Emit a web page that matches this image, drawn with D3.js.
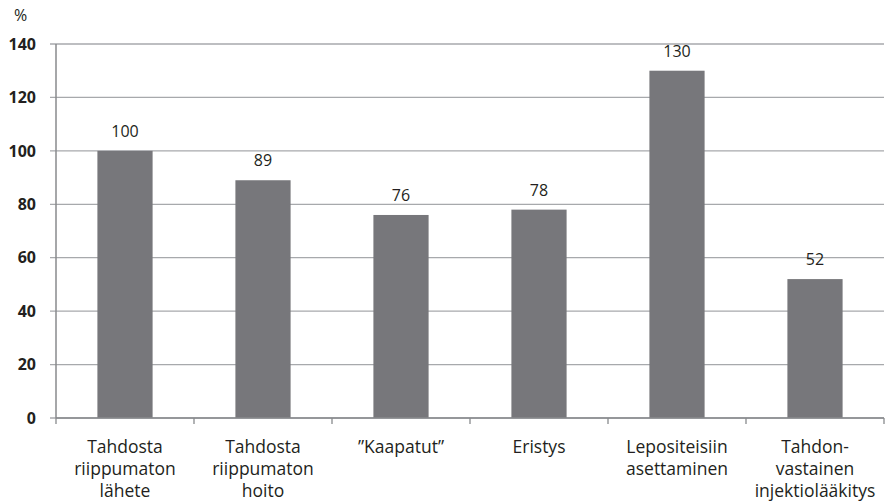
<!DOCTYPE html>
<html>
<head>
<meta charset="utf-8">
<script src="https://cdn.jsdelivr.net/npm/d3@7"></script>
<style>
  body { margin: 0; background: #fff; }
  text { font-family: "Open Sans", "Noto Sans", sans-serif; fill: #231f20; }
</style>
</head>
<body>
<script>
const w = 887;
const h = 503;

// data
const categories = [
  ['Tahdosta', 'riippumaton', 'lähete'],
  ['Tahdosta', 'riippumaton', 'hoito'],
  ['”Kaapatut”'],
  ['Eristys'],
  ['Lepositeisiin', 'asettaminen'],
  ['Tahdon-', 'vastainen', 'injektiolääkitys']
];
const values = [100, 89, 76, 78, 130, 52];
const yTicks = [0, 20, 40, 60, 80, 100, 120, 140];

const mLeft = 56, mRight = 884, mTop = 44, mBottom = 418;

let svg = d3.select('body').append('svg').attr('width', w).attr('height', h);

let x = d3.scaleBand().domain(d3.range(values.length)).range([mLeft, mRight]).padding(0);
let y = d3.scaleLinear().domain([0, 140]).range([mBottom, mTop]);
let barW = x.bandwidth() * 0.4;

// gridlines
svg.append('g')
  .selectAll('line')
  .data(yTicks)
  .enter()
  .append('line')
  .attr('x1', mLeft - 6)
  .attr('x2', mRight)
  .attr('y1', (d) => y(d))
  .attr('y2', (d) => y(d))
  .attr('stroke', '#a7a9ac')
  .attr('stroke-width', 1.3);

// y tick labels
svg.append('g')
  .selectAll('text')
  .data(yTicks)
  .enter()
  .append('text')
  .attr('x', 36)
  .attr('y', (d) => y(d))
  .attr('dy', '0.36em')
  .attr('text-anchor', 'end')
  .attr('font-size', 16)
  .attr('font-weight', 'bold')
  .text((d) => d);

svg.append('text')
  .attr('x', 14)
  .attr('y', 21)
  .attr('font-size', 16)
  .text('%');

// bars
svg.append('g')
  .selectAll('rect')
  .data(values)
  .enter()
  .append('rect')
  .attr('x', (d, i) => x(i) + (x.bandwidth() - barW) / 2)
  .attr('width', barW)
  .attr('y', (d) => y(d))
  .attr('height', (d) => mBottom - y(d))
  .attr('fill', '#77777b');

// value labels
svg.append('g')
  .selectAll('text')
  .data(values)
  .enter()
  .append('text')
  .attr('x', (d, i) => x(i) + x.bandwidth() / 2)
  .attr('y', (d) => y(d) - 14)
  .attr('text-anchor', 'middle')
  .attr('font-size', 16)
  .text((d) => d);

// axis lines
svg.append('line')
  .attr('x1', mLeft).attr('x2', mLeft)
  .attr('y1', mTop).attr('y2', mBottom)
  .attr('stroke', '#888a8d').attr('stroke-width', 1.5);

svg.append('line')
  .attr('x1', mLeft).attr('x2', mRight)
  .attr('y1', mBottom).attr('y2', mBottom)
  .attr('stroke', '#888a8d').attr('stroke-width', 1.5);

// x ticks at band boundaries
svg.append('g')
  .selectAll('line')
  .data(d3.range(values.length + 1))
  .enter()
  .append('line')
  .attr('x1', (d) => mLeft + d * x.step())
  .attr('x2', (d) => mLeft + d * x.step())
  .attr('y1', mBottom)
  .attr('y2', mBottom + 6)
  .attr('stroke', '#888a8d').attr('stroke-width', 1.3);

// category labels
let cat = svg.append('g')
  .selectAll('text')
  .data(categories)
  .enter()
  .append('text')
  .attr('x', (d, i) => x(i) + x.bandwidth() / 2)
  .attr('y', 453)
  .attr('text-anchor', 'middle')
  .attr('font-size', 17.5);

cat.selectAll('tspan')
  .data((d) => d)
  .enter()
  .append('tspan')
  .attr('x', function () { return this.parentNode.getAttribute('x'); })
  .attr('dy', (d, i) => (i === 0 ? 0 : 22))
  .text((d) => d);
</script>
</body>
</html>
